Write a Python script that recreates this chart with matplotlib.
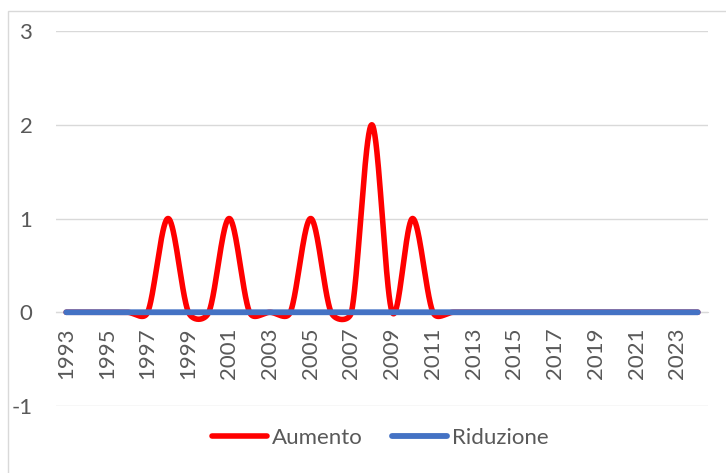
import numpy as np
import matplotlib
matplotlib.use("Agg")
import matplotlib.pyplot as plt
from matplotlib.patches import Rectangle

years = list(range(1993, 2025))
aumento = [0,0,0,0,0,1,0,0,1,0,0,0,1,0,0,2,0,1,0,0,0,0,0,0,0,0,0,0,0,0,0,0]
riduzione = [0]*len(years)
tick_labels = [str(y) for y in range(1993, 2024, 2)]

# Excel-like smoothing done in screen space
SX, SY = 20.375, 93.75  # px per unit (x, y)

def smooth(x, y, n=40):
    X = np.asarray(x, float) * SX
    Y = np.asarray(y, float) * SY
    P = np.column_stack([X, Y])
    m = len(P)
    xs, ys = [], []
    for i in range(m - 1):
        p0 = P[max(i-1, 0)]; p1 = P[i]; p2 = P[i+1]; p3 = P[min(i+2, m-1)]
        d12 = np.linalg.norm(p2 - p1)
        v1 = p2 - p0; n1 = np.linalg.norm(v1)
        v2 = p3 - p1; n2 = np.linalg.norm(v2)
        l1 = min(n1 / 6, d12 / 2); l2 = min(n2 / 6, d12 / 2)
        c1 = p1 + (v1 / n1 * l1 if n1 > 0 else 0)
        c2 = p2 - (v2 / n2 * l2 if n2 > 0 else 0)
        t = np.linspace(0, 1, n, endpoint=(i == m-2))[:, None]
        B = (1-t)**3*p1 + 3*(1-t)**2*t*c1 + 3*(1-t)*t**2*c2 + t**3*p2
        xs.append(B[:, 0] / SX); ys.append(B[:, 1] / SY)
    return np.concatenate(xs), np.concatenate(ys)

plt.rcParams['font.family'] = ['Lato', 'DejaVu Sans']
plt.rcParams['axes.unicode_minus'] = False
fig = plt.figure(figsize=(7.26, 4.73), dpi=100)
fig.patches.append(Rectangle((8/726, -0.1), 1.2, 1 - 11/473 + 0.1, transform=fig.transFigure,
                             fill=False, edgecolor='#D9D9D9', linewidth=1))
ax = fig.add_axes([56/726, 1 - 406/473, (708-56)/726, (406-31)/473])

idx = np.arange(len(years))
xa, ya = smooth(idx, aumento)
xr, yr = smooth(idx, riduzione)
la, = ax.plot(xa, ya, color='#FF0000', lw=4.0, solid_capstyle='round', label='Aumento', zorder=3)
lr, = ax.plot(xr, yr, color='#4472C4', lw=4.2, solid_capstyle='round', label='Riduzione', zorder=4)

ax.set_xlim(-0.5, len(years) - 0.5)
ax.set_ylim(-1, 3)
ax.set_yticks([-1, 0, 1, 2, 3])
ax.grid(axis='y', color='#D9D9D9', lw=1)
ax.set_axisbelow(True)
for s in ['top', 'right', 'left']:
    ax.spines[s].set_visible(False)
ax.spines['bottom'].set_position(('data', 0))
ax.spines['bottom'].set_color('#D9D9D9')
ax.set_xticks(idx[::2])
ax.set_xticklabels(tick_labels, rotation=90)
ax.tick_params(axis='x', length=0, pad=11, labelsize=16, labelcolor='#595959')
ax.tick_params(axis='y', length=0, pad=17, labelsize=16, labelcolor='#595959')

fig.legend(handles=[la, lr], loc='center', bbox_to_anchor=(380/726, 1 - 438/473), ncol=2,
           frameon=False, fontsize=16, labelcolor='#595959', handlelength=2.5,
           handletextpad=0.2, columnspacing=1.3)
fig.savefig('out.png', dpi=100)
